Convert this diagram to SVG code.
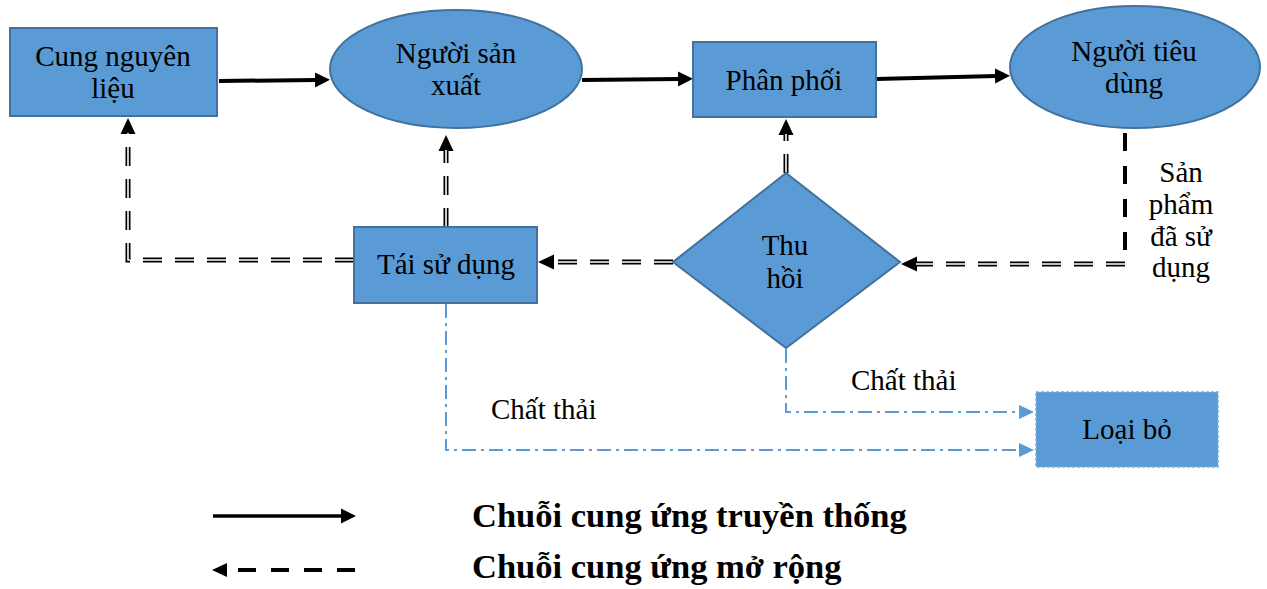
<svg xmlns="http://www.w3.org/2000/svg" width="1267" height="589" viewBox="0 0 1267 589">
  <style>
    .box { fill: #5b9bd5; stroke: #41719c; stroke-width: 2; }
    .drop { fill: #5b9bd5; stroke: #7aaee0; stroke-width: 1.5; stroke-dasharray: 3 2; }
    .lbl { font-family: "Liberation Serif", "Times New Roman", serif; font-size: 29px; fill: #000; text-anchor: middle; }
    .free { font-family: "Liberation Serif", "Times New Roman", serif; font-size: 29px; fill: #000; }
    .legend { font-family: "Liberation Serif", "Times New Roman", serif; font-size: 34.5px; font-weight: bold; fill: #000; }
    .solid { fill: none; stroke: #000; stroke-width: 4; }
    .dblOut { fill: none; stroke: #000; stroke-width: 5; stroke-dasharray: 19 13; }
    .dblIn { fill: none; stroke: #fff; stroke-width: 1.6; stroke-dasharray: 19 13; }
    .thick { fill: none; stroke: #000; stroke-width: 4; stroke-dasharray: 18 15; }
    .waste { fill: none; stroke: #5b9bd5; stroke-width: 2; stroke-dasharray: 14 5 3 5; }
  </style>
  <defs>
    <!-- arrowheads: base sits at the path end, tip extends forward -->
    <marker id="headSolid" markerUnits="userSpaceOnUse" viewBox="0 -8 16 16" markerWidth="16" markerHeight="16" refX="1" refY="0" orient="auto">
      <path d="M0,-7.5 L15,0 L0,7.5 z" fill="#000"/>
    </marker>
    <marker id="headDbl" markerUnits="userSpaceOnUse" viewBox="0 -8 16 16" markerWidth="16" markerHeight="16" refX="1" refY="0" orient="auto">
      <path d="M0,-7.5 L16,0 L0,7.5 z" fill="#000"/>
    </marker>
    <marker id="headBlue" markerUnits="userSpaceOnUse" viewBox="0 -8 16 16" markerWidth="16" markerHeight="16" refX="1" refY="0" orient="auto">
      <path d="M0,-7 L15,0 L0,7 z" fill="#5b9bd5"/>
    </marker>
  </defs>

  <!-- connectors -->
  <g id="connectors">
    <!-- main chain -->
    <path class="solid" d="M219,81 L316,80" marker-end="url(#headSolid)"/>
    <path class="solid" d="M582,80 L679,79" marker-end="url(#headSolid)"/>
    <path class="solid" d="M876,79 L996,76" marker-end="url(#headSolid)"/>

    <!-- used products down from consumer -->
    <path class="thick" d="M1125,133 V252"/>

    <!-- extended chain (double dashed) -->
    <path class="dblOut" d="M1125,264 H916" marker-end="url(#headDbl)"/>
    <path class="dblIn" d="M1125,264 H916"/>

    <path class="dblOut" d="M673,262 H553" marker-end="url(#headDbl)"/>
    <path class="dblIn" d="M673,262 H553"/>

    <path class="dblOut" d="M786,173 V134" marker-end="url(#headDbl)"/>
    <path class="dblIn" d="M786,173 V134"/>

    <path class="dblOut" d="M446,227 V150" marker-end="url(#headDbl)"/>
    <path class="dblIn" d="M446,227 V150"/>

    <path class="dblOut" d="M354,260 H128 V133" marker-end="url(#headDbl)"/>
    <path class="dblIn" d="M354,260 H128 V133"/>

    <!-- waste flows -->
    <path class="waste" d="M786,349 V412 H1020" marker-end="url(#headBlue)"/>
    <path class="waste" d="M446,304 V450 H1020" marker-end="url(#headBlue)"/>
  </g>

  <g id="cung-nguyen-lieu">
    <rect class="box" x="10" y="28" width="207" height="88"/>
    <text class="lbl" x="113" y="66">Cung nguyên</text>
    <text class="lbl" x="113" y="98">liệu</text>
  </g>

  <g id="nguoi-san-xuat">
    <ellipse class="box" cx="456" cy="69" rx="126" ry="59"/>
    <text class="lbl" x="456" y="63">Người sản</text>
    <text class="lbl" x="456" y="95">xuất</text>
  </g>

  <g id="phan-phoi">
    <rect class="box" x="693" y="42" width="183" height="75"/>
    <text class="lbl" x="784" y="90">Phân phối</text>
  </g>

  <g id="nguoi-tieu-dung">
    <ellipse class="box" cx="1135" cy="67" rx="125" ry="61"/>
    <text class="lbl" x="1134" y="61">Người tiêu</text>
    <text class="lbl" x="1134" y="93">dùng</text>
  </g>

  <g id="san-pham-da-su-dung">
    <text class="lbl" x="1181" y="182">Sản</text>
    <text class="lbl" x="1181" y="214">phẩm</text>
    <text class="lbl" x="1181" y="246">đã sử</text>
    <text class="lbl" x="1181" y="277">dụng</text>
  </g>

  <g id="thu-hoi">
    <polygon class="box" points="786,173 900,262 786,348 673,262"/>
    <text class="lbl" x="785" y="255">Thu</text>
    <text class="lbl" x="785" y="288">hồi</text>
  </g>

  <g id="tai-su-dung">
    <rect class="box" x="354" y="227" width="183" height="76"/>
    <text class="lbl" x="446" y="274">Tái sử dụng</text>
  </g>

  <g id="loai-bo">
    <rect class="drop" x="1036" y="392" width="182" height="75"/>
    <text class="lbl" x="1127" y="439">Loại bỏ</text>
  </g>

  <g id="waste-labels">
    <text class="free" x="851" y="390">Chất thải</text>
    <text class="free" x="491" y="419">Chất thải</text>
  </g>

  <!-- legend -->
  <g id="legend">
    <path class="solid" d="M213,516 H342" style="stroke-width:3.5" marker-end="url(#headSolid)"/>
    <text class="legend" x="472" y="527">Chuỗi cung ứng truyền thống</text>
    <path d="M238,570 H355" fill="none" stroke="#000" stroke-width="4" stroke-dasharray="18 15"/>
    <path d="M212,570 L227,563 L227,577 z" fill="#000"/>
    <text class="legend" x="472" y="578">Chuỗi cung ứng mở rộng</text>
  </g>
</svg>
